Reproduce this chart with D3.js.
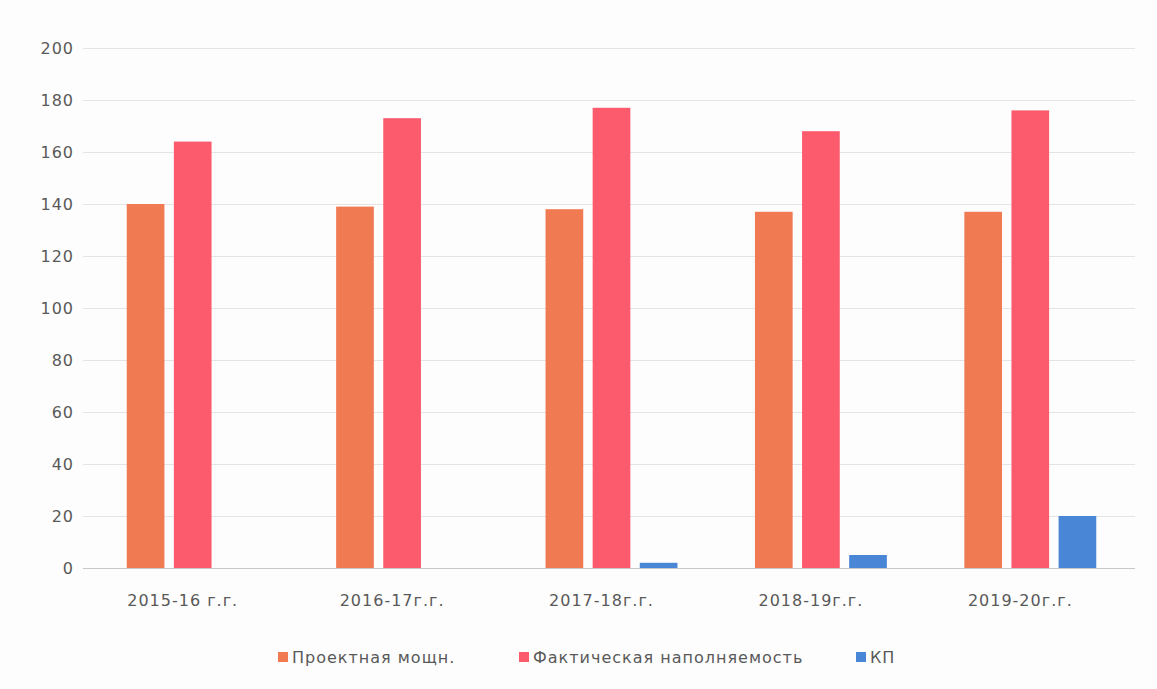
<!DOCTYPE html>
<html>
<head>
<meta charset="utf-8">
<script src="https://cdn.jsdelivr.net/npm/d3@7"></script>
<style>
  body { margin: 0; background: #fdfdfd; }
  text { font-family: "DejaVu Sans", sans-serif; letter-spacing: 1px; }
</style>
</head>
<body>
<div id="container"></div>
<script>
// data
var years = ['2015-16 г.г.', '2016-17г.г.', '2017-18г.г.', '2018-19г.г.', '2019-20г.г.'];
var seriesNames = ['Проектная мощн.', 'Фактическая наполняемость', 'КП'];
var proekt = [140, 139, 138, 137, 137];
var fakt = [164, 173, 177, 168, 176];
var kp = [0, 0, 2, 5, 20];
var yTicks = [0, 20, 40, 60, 80, 100, 120, 140, 160, 180, 200];
var colors = ['#f07a52', '#fc5a6d', '#4a86d6'];

var W = 1157, H = 689;
var margin = { left: 88, right: 22, top: 48, bottom: 121 };

var rows = years.map(function(y, i) {
  return { year: y, vals: [proekt[i], fakt[i], kp[i]] };
});

var svg = d3.select('#container').append('svg')
            .attr('width', W)
            .attr('height', H);

var x0 = d3.scaleBand()
           .domain(years)
           .range([margin.left, W - margin.right])
           .paddingInner(0.37)
           .paddingOuter(0.185);

var x1 = d3.scaleBand()
           .domain([0, 1, 2])
           .range([0, x0.bandwidth()])
           .paddingInner(0.2);

var y = d3.scaleLinear()
          .domain([0, 200])
          .range([H - margin.bottom, margin.top]);

// gridlines
svg.append('g')
   .selectAll('line')
   .data(yTicks)
   .enter()
   .append('line')
   .attr('x1', margin.left - 5)
   .attr('x2', W - margin.right)
   .attr('y1', function(d) { return y(d) + 0.5; })
   .attr('y2', function(d) { return y(d) + 0.5; })
   .attr('stroke', function(d) { return d === 0 ? '#c8c8c8' : '#e4e4e4'; })
   .attr('stroke-width', 1);

// y axis labels
var yAxis = d3.axisLeft(y).tickValues(yTicks).tickSize(0).tickPadding(0);
var gy = svg.append('g')
            .attr('transform', 'translate(' + (margin.left - 14) + ',0)')
            .call(yAxis);
gy.select('.domain').remove();
gy.selectAll('text')
  .attr('fill', '#595959')
  .style('font-family', '"DejaVu Sans", sans-serif')
  .style('font-size', '16px');

// bars
var groups = svg.append('g')
                .selectAll('g')
                .data(rows)
                .enter()
                .append('g')
                .attr('transform', function(d) { return 'translate(' + x0(d.year) + ',0)'; });

groups.selectAll('rect')
      .data(function(d) { return d.vals; })
      .enter()
      .append('rect')
      .attr('x', function(d, i) { return x1(i); })
      .attr('y', function(d) { return y(d); })
      .attr('width', x1.bandwidth())
      .attr('height', function(d) { return y(0) - y(d); })
      .attr('fill', function(d, i) { return colors[i]; });

// x axis labels
var xAxis = d3.axisBottom(x0).tickSize(0).tickPadding(27);
var gx = svg.append('g')
            .attr('transform', 'translate(0,' + y(0) + ')')
            .call(xAxis);
gx.select('.domain').remove();
gx.selectAll('text')
  .attr('fill', '#595959')
  .attr('dx', -10)
  .style('font-family', '"DejaVu Sans", sans-serif')
  .style('font-size', '16px');

// legend
var legendX = [278, 519, 856];
var legend = svg.append('g')
                .selectAll('g')
                .data(seriesNames)
                .enter()
                .append('g')
                .attr('transform', function(d, i) { return 'translate(' + legendX[i] + ',657)'; });

legend.append('rect')
      .attr('x', 0)
      .attr('y', -5)
      .attr('width', 10)
      .attr('height', 10)
      .attr('fill', function(d, i) { return colors[i]; });

legend.append('text')
      .attr('x', 14)
      .attr('y', 6)
      .text(function(d) { return d; })
      .attr('fill', '#595959')
      .style('font-size', '16px');
</script>
</body>
</html>
